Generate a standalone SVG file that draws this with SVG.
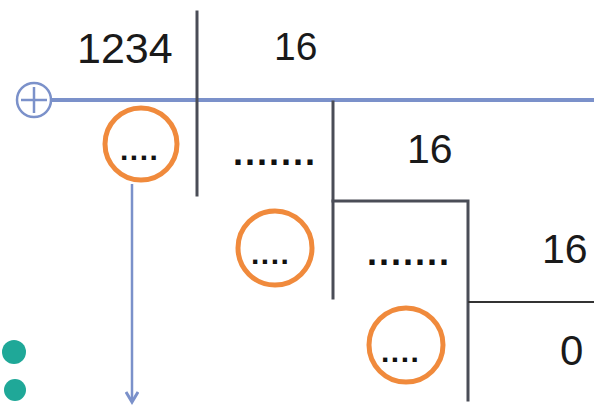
<svg xmlns="http://www.w3.org/2000/svg" width="594" height="405" viewBox="0 0 594 405">
<defs>
<style>
.num{font-family:"Liberation Sans",Arial,sans-serif;fill:#1a1a1a;}
.dots{font-family:"Liberation Sans",Arial,sans-serif;font-weight:bold;fill:#111;}
.big{font-size:36px;letter-spacing:2px;}
.small{font-size:30px;letter-spacing:1.5px;}
.rule{stroke:#4a4d57;stroke-width:3;fill:none;stroke-linecap:square;}
.ring{fill:none;stroke:#f08a3c;stroke-width:5;}
.blue{stroke:#7b91ca;fill:none;}
</style>
<marker id="arr" markerWidth="14" markerHeight="14" viewBox="0 0 14 14" refX="11" refY="7" orient="auto" markerUnits="userSpaceOnUse">
<path d="M1,1 L11,7 L1,13" fill="none" stroke="#7b91ca" stroke-width="3"/>
</marker>
</defs>
<rect width="594" height="405" fill="#fff"/>
<g id="connectors">
<line class="blue" x1="52" y1="100" x2="594" y2="100" stroke-width="4"/>
<line class="rule" x1="197" y1="12" x2="197" y2="195"/>
<polyline class="rule" points="333,102 333,298"/>
<polyline class="rule" points="333,201 468,201 468,400"/>
<line x1="468" y1="302" x2="594" y2="302" stroke="#333" stroke-width="2"/>
<line class="blue" x1="132" y1="184" x2="132" y2="402" stroke-width="2.5" marker-end="url(#arr)"/>
</g>
<g id="plus">
<circle class="blue" cx="34" cy="100" r="17" stroke-width="2.5"/>
<line class="blue" x1="21" y1="100" x2="47" y2="100" stroke-width="2.5"/>
<line class="blue" x1="34" y1="87" x2="34" y2="113" stroke-width="2.5"/>
</g>
<g id="dividend"><text class="num" x="77" y="63" font-size="43">1234</text></g>
<g id="div1"><text class="num" x="274" y="60" font-size="39">16</text></g>
<g id="div2"><text class="num" x="407" y="163" font-size="41">16</text></g>
<g id="div3"><text class="num" x="542" y="263" font-size="41">16</text></g>
<g id="zero"><text class="num" x="560" y="365" font-size="42">0</text></g>
<g id="q1"><text class="dots big" x="233" y="165">.......</text></g>
<g id="q2"><text class="dots big" x="367" y="265">.......</text></g>
<g id="r1">
<circle class="ring" cx="141" cy="144" r="36"/>
<text class="dots small" x="120" y="160">....</text>
</g>
<g id="r2">
<circle class="ring" cx="275" cy="248" r="37"/>
<text class="dots small" x="251" y="264">....</text>
</g>
<g id="r3">
<circle class="ring" cx="406" cy="345" r="37"/>
<text class="dots small" x="381" y="362">....</text>
</g>
<g id="bullets">
<circle cx="14" cy="352" r="12" fill="#1fa898"/>
<circle cx="15" cy="390" r="11" fill="#1fa898"/>
</g>
</svg>
